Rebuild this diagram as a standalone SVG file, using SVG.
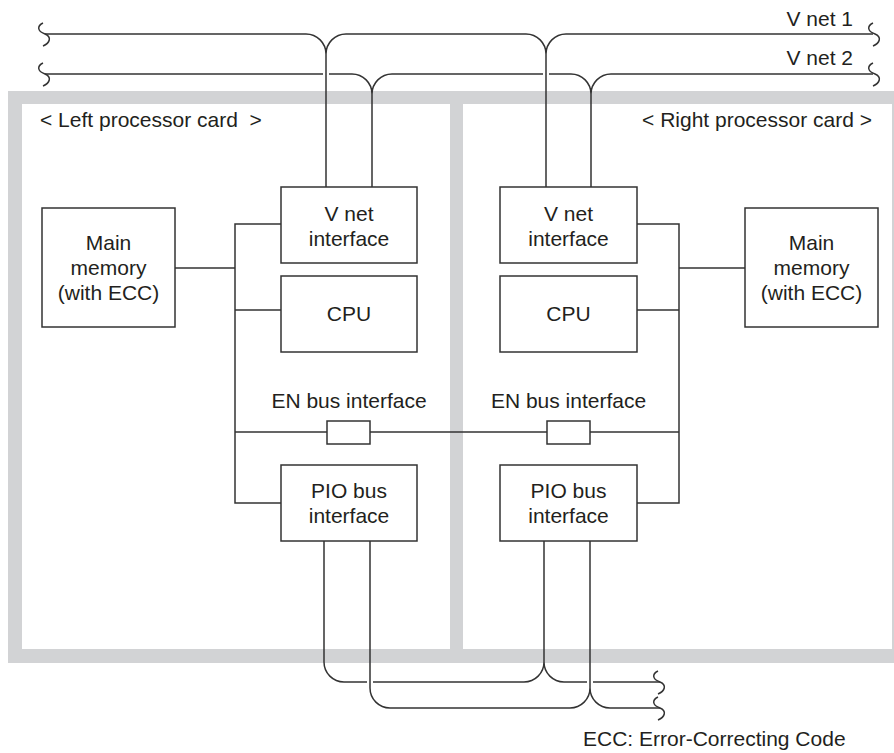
<svg xmlns="http://www.w3.org/2000/svg" width="894" height="753" viewBox="0 0 894 753">
<style>
  .ln{fill:none;stroke:#333;stroke-width:1.5}
  .bx{fill:#fff;stroke:#333;stroke-width:1.5}
  text{font-family:"Liberation Sans",Arial,sans-serif;font-size:21px;fill:#231f20}
  .c{text-anchor:middle}
  .r{text-anchor:end}
</style>
<defs>
  <path id="wave" class="ln" d="M-2,-11 C-8,-8 -8,-3 0,0 C7,3 5,9 -2,12"/>
</defs>
<g id="frame">
  <rect x="8" y="91" width="886" height="572" fill="#d2d3d5"/>
  <rect x="22" y="104" width="428" height="545" fill="#fff"/>
  <rect x="463" y="104" width="429" height="545" fill="#fff"/>
</g>
<g id="connectors">
  <path class="ln" d="M45,34 H306 A20,20 0 0 1 326,54 A20,20 0 0 1 346,34 H526 A20,20 0 0 1 546,54 A20,20 0 0 1 566,34 H873"/>
  <path class="ln" d="M326,54 V187 M546,54 V187"/>
  <path class="ln" d="M45,74 H323 M329,74 H352 A20,20 0 0 1 372,94 A20,20 0 0 1 392,74 H543 M549,74 H571 A20,20 0 0 1 591,94 A20,20 0 0 1 611,74 H873"/>
  <path class="ln" d="M372,94 V187 M591,94 V187"/>
  <use href="#wave" x="45" y="34"/>
  <use href="#wave" x="45" y="74"/>
  <use href="#wave" x="875" y="34"/>
  <use href="#wave" x="875" y="74"/>
  <path class="ln" d="M324,541 V662 A20,20 0 0 0 344,682 H367 M373,682 H524 A20,20 0 0 0 544,662 A20,20 0 0 0 564,682 H587 M593,682 H660"/>
  <path class="ln" d="M544,541 V662"/>
  <path class="ln" d="M370,541 V688 A20,20 0 0 0 390,708 H570 A20,20 0 0 0 590,688 A20,20 0 0 0 610,708 H660"/>
  <path class="ln" d="M590,541 V688"/>
  <use href="#wave" x="660" y="682"/>
  <use href="#wave" x="660" y="708"/>
  <path class="ln" d="M281,224 H235 V503 H281 M175,268 H235 M235,310 H281 M235,432 H679"/>
  <path class="ln" d="M637,224 H679 V503 H637 M679,268 H745 M637,310 H679"/>
</g>
<g id="main-memory-left">
  <rect class="bx" x="42" y="208" width="133" height="119"/>
  <text class="c" x="108.5" y="250">Main</text>
  <text class="c" x="108.5" y="275">memory</text>
  <text class="c" x="108.5" y="300">(with ECC)</text>
</g>
<g id="vnet-left">
  <rect class="bx" x="281" y="187" width="136" height="76"/>
  <text class="c" x="349" y="221">V net</text>
  <text class="c" x="349" y="246">interface</text>
</g>
<g id="cpu-left">
  <rect class="bx" x="281" y="276" width="136" height="76"/>
  <text class="c" x="349" y="321">CPU</text>
</g>
<g id="en-left">
  <text class="c" x="349" y="408">EN bus interface</text>
  <rect class="bx" x="327" y="421" width="43" height="23"/>
</g>
<g id="pio-left">
  <rect class="bx" x="281" y="465" width="136" height="76"/>
  <text class="c" x="349" y="498">PIO bus</text>
  <text class="c" x="349" y="523">interface</text>
</g>
<g id="vnet-right">
  <rect class="bx" x="500" y="187" width="137" height="76"/>
  <text class="c" x="568.5" y="221">V net</text>
  <text class="c" x="568.5" y="246">interface</text>
</g>
<g id="cpu-right">
  <rect class="bx" x="500" y="276" width="137" height="76"/>
  <text class="c" x="568.5" y="321">CPU</text>
</g>
<g id="en-right">
  <text class="c" x="568.5" y="408">EN bus interface</text>
  <rect class="bx" x="547" y="421" width="43" height="23"/>
</g>
<g id="pio-right">
  <rect class="bx" x="500" y="465" width="137" height="76"/>
  <text class="c" x="568.5" y="498">PIO bus</text>
  <text class="c" x="568.5" y="523">interface</text>
</g>
<g id="main-memory-right">
  <rect class="bx" x="745" y="208" width="133" height="119"/>
  <text class="c" x="811.5" y="250">Main</text>
  <text class="c" x="811.5" y="275">memory</text>
  <text class="c" x="811.5" y="300">(with ECC)</text>
</g>
<g id="labels">
  <text x="40" y="127" style="white-space:pre">&lt; Left processor card  &gt;</text>
  <text class="r" x="872" y="127">&lt; Right processor card &gt;</text>
  <text class="r" x="853" y="26">V net 1</text>
  <text class="r" x="853" y="65">V net 2</text>
  <text x="583" y="746">ECC: Error-Correcting Code</text>
</g>
</svg>
